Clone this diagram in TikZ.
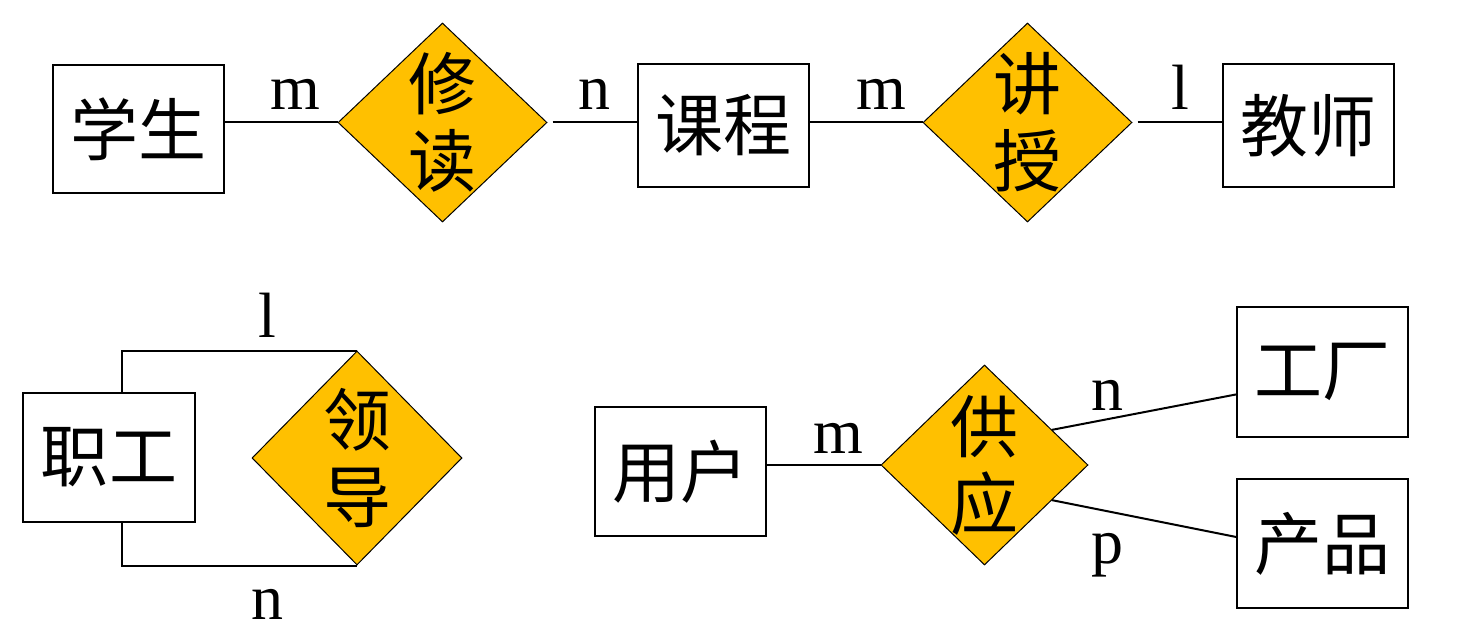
\documentclass[tikz,border=0pt]{standalone}
\usepackage{fontspec}
\setmainfont{Liberation Serif}
\newfontfamily\cjk{Noto Sans CJK SC}
\usetikzlibrary{shapes.geometric,calc}
\definecolor{relfill}{HTML}{FFC000}
\tikzset{entity/.style={draw,line width=2.2bp,inner sep=0pt,minimum width=171bp,minimum height=128bp,font=\cjk\fontsize{68bp}{78bp}\selectfont},
  rel/.style={diamond,draw,line width=1bp,fill=relfill,inner sep=0pt,minimum width=209bp,minimum height=199bp},
  reltext/.style={font=\cjk\fontsize{68bp}{77bp}\selectfont,align=center,inner sep=0pt},
  card/.style={anchor=base,inner sep=0pt,font=\fontsize{64bp}{70bp}\selectfont},
  conn/.style={line width=2bp}}

\begin{document}
\begin{tikzpicture}[x=1bp,y=-1bp]
\useasboundingbox (0,0) rectangle (1468,631);
\node[entity] (xs) at (138.5,129) {学生};
\node[rel,label={[reltext,name=xdt]center:修\\读}] (xd) at (442.5,122.5) {};
\node[entity,minimum width=171bp,minimum height=123bp] (kc) at (723.5,125.5) {课程};
\node[rel,label={[reltext,name=jdt]center:讲\\授}] (jd) at (1027.5,122.5) {};
\node[entity,minimum width=171bp,minimum height=123bp] (js) at (1308.5,125.5) {教师};
\draw[conn] (xd.west -| xs.east) -- (xd.west);
\draw[conn,shorten <=5bp] (xd.east) -- (xd.east -| kc.west);
\draw[conn] (jd.west -| kc.east) -- (jd.west);
\draw[conn,shorten <=5bp] (jd.east) -- (jd.east -| js.west);

\node[entity,minimum width=172bp,minimum height=129bp] (zg) at (109,457.5) {职工};
\node[rel,minimum width=210bp,minimum height=214bp,label={[reltext,name=ldt]center:领\\导}] (ld) at (357,458) {};
\draw[conn] ([xshift=100bp]zg.north west) |- (ld.north);
\draw[conn] ([xshift=100bp]zg.south west) |- (ld.south);

\node[entity,minimum width=171bp,minimum height=129bp] (yh) at (680.5,471.5) {用户};
\node[rel,minimum width=207bp,minimum height=200bp,label={[reltext,name=gyt]center:供\\应}] (gy) at (984.5,465) {};
\node[entity,minimum width=171bp,minimum height=130bp] (gc) at (1322.5,372) {工厂};
\node[entity,minimum width=171bp,minimum height=129bp] (cp) at (1322.5,543.5) {产品};
\draw[conn] (gy.west -| yh.east) -- (gy.west);
\draw[conn] ($(gy.north east)!0.3!(gy.east)$) -- ($(gc.south west)!0.33!(gc.north west)$);
\draw[conn] ($(gy.east)!0.35!(gy.south)$) -- ($(cp.north west)!0.45!(cp.south west)$);

\foreach \t/\x/\y [count=\i] in {m/295/110, n/594/110, m/881/110, l/1180/110,
  l/267/337, n/267/619, m/838/453, n/1107/410, p/1107/563}
  \node[card] (c\i) at (\x,\y) {\t};
\end{tikzpicture}
\end{document}
